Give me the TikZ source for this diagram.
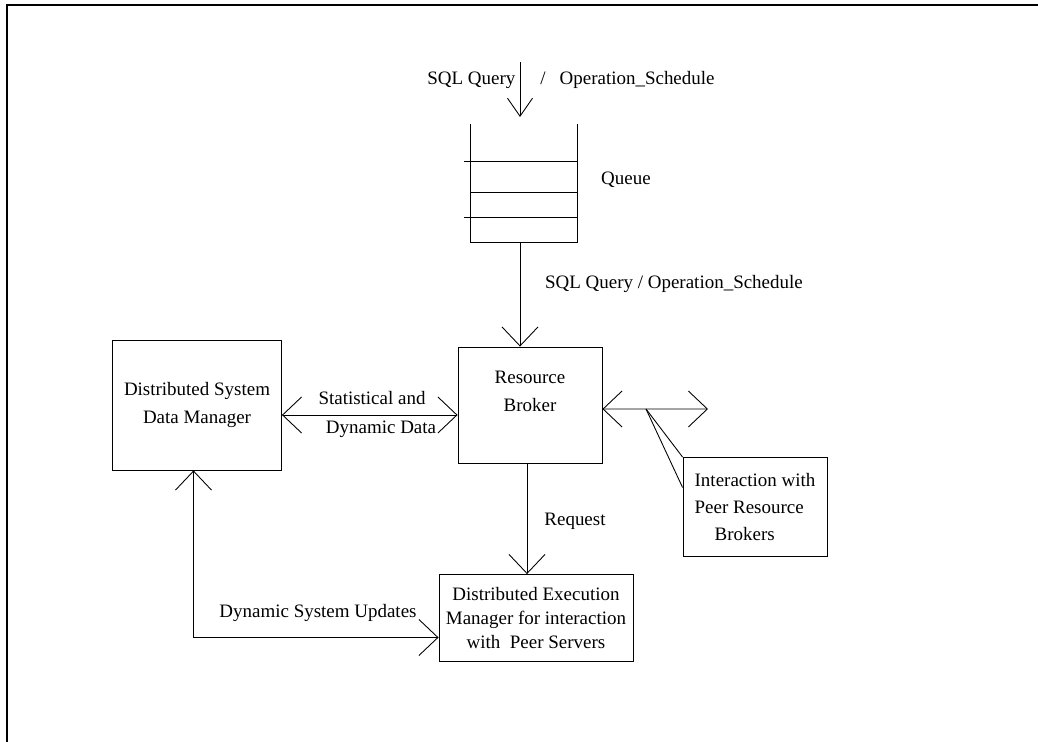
\documentclass[tikz,border=0pt]{standalone}
\usepackage{fontspec}
\setmainfont{Liberation Serif}
\usetikzlibrary{arrows.meta}

\tikzset{
	box/.style={draw, line width=0.5pt, align=center, inner sep=0pt},
	flow/.style={line width=0.5pt, -{Straight Barb[length=0.38cm,width=0.72cm,line width=0.5pt]}},
	both/.style={line width=0.5pt, {Straight Barb[length=0.38cm,width=0.72cm,line width=0.5pt]}-{Straight Barb[length=0.38cm,width=0.72cm,line width=0.5pt]}},
	lbl/.style={inner sep=1pt}
}

\begin{document}
\begin{tikzpicture}[x=0.02cm, y=-0.02cm, font=\fontsize{10.8}{15.5}\selectfont]
	\useasboundingbox (0,0) rectangle (1038,742);
	% frame
	\draw [line width=0.6pt] (1038,5) -- (7,5) -- (7,742);

	% queue
	\coordinate (qtop) at (520,62);
	\coordinate (qin) at (520,117);
	\coordinate (qbot) at (520,242);
	\draw [line width=0.5pt] (470,124) -- (470,242) -- (577,242) -- (577,124);
	\draw [line width=0.5pt] (464,161) -- (577,161);
	\draw [line width=0.5pt] (470,192) -- (577,192);
	\draw [line width=0.5pt] (464,217) -- (577,217);
	\node [lbl] (queue) at (626,180) {Queue};

	% boxes
	\node [box, minimum width=2.88cm, minimum height=2.32cm] (rb) at (530,405) {Resource\\Broker\\\mbox{}};
	\node [box, minimum width=3.38cm, minimum height=2.60cm] (dsdm) at (197,405) {Distributed System\\Data Manager};
	\node [box, minimum width=2.88cm, minimum height=1.98cm, align=left] (peer) at (755,507) {Interaction with\\Peer Resource\\\hspace{0.4cm}Brokers};
	\node [box, minimum width=3.88cm, minimum height=1.74cm, font=\fontsize{10.8}{13.5}\selectfont] (dem) at (536,618) {Distributed Execution\\Manager for interaction\\with\ \ Peer Servers};

	% label
	\node [lbl] (sqltop) at (571,80) {SQL Query\hspace{0.5cm}/\hspace{0.28cm}Operation\_Schedule};
	\node [lbl, anchor=west] (sqlmid) at (543,284) {SQL Query / Operation\_Schedule};
	\node [lbl] (stat) at (372,398) {Statistical and};
	\node [lbl] (dyn) at (381,429) {Dynamic Data};
	\node [lbl] (req) at (575,521) {Request};
	\node [lbl] (upd) at (318,613) {Dynamic System Updates};

	% arrows
	\draw [line width=0.5pt, -{Straight Barb[length=0.36cm,width=0.5cm,line width=0.5pt]}] (qtop) -- (qin);
	\draw [flow] (qbot) -- (qbot |- rb.north);
	\path ([yshift=-0.2cm]dsdm.east) coordinate (dl);
	\draw [both] (dl) -- (dl -| rb.west);
	\path ([yshift=-0.08cm]rb.east) coordinate (rl);
	\coordinate (rend) at (708,409);
	\draw [both] (rl) -- (rend);
	\path ([xshift=-0.06cm]rb.south) coordinate (rq);
	\draw [flow] (rq) -- (rq |- dem.north);
	\draw [both] ([yshift=-0.39cm]dem.west) -| ([xshift=-0.07cm]dsdm.south);

	% callout
	\coordinate (tap) at (646,409);
	\draw [line width=0.5pt] (tap) -- (peer.north west);
	\draw [line width=0.5pt] (tap) -- ([yshift=0.39cm]peer.west);
\end{tikzpicture}
\end{document}
